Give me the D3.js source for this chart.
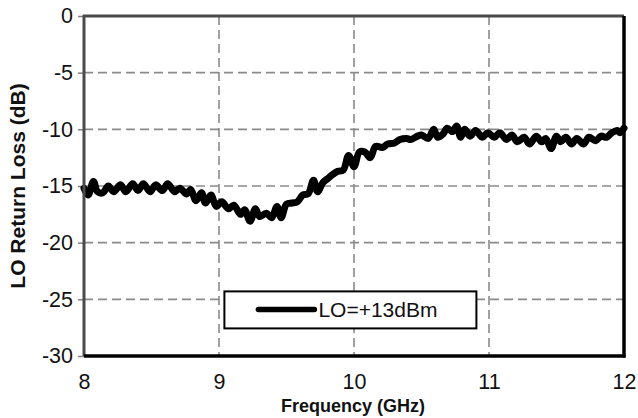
<!DOCTYPE html>
<html>
<head>
<meta charset="utf-8">
<script src="https://cdn.jsdelivr.net/npm/d3@7"></script>
<style>
  html, body { margin: 0; padding: 0; background: #fff; }
  svg { display: block; font-family: "Liberation Sans", Arial, sans-serif; }
</style>
</head>
<body>
<svg id="chart" width="638" height="418"></svg>
<script>
// LO return loss vs frequency, LO = +13 dBm
const freqGHz = [
  8.00, 8.03, 8.07, 8.10, 8.14, 8.18, 8.22, 8.27, 8.31, 8.36,
  8.40, 8.44, 8.49, 8.53, 8.58, 8.62, 8.67, 8.71, 8.76, 8.79,
  8.83, 8.87, 8.90, 8.94, 8.98, 9.02, 9.07, 9.11, 9.16, 9.19,
  9.23, 9.27, 9.30, 9.35, 9.39, 9.43, 9.46, 9.50, 9.54, 9.58,
  9.62, 9.66, 9.70, 9.73, 9.77, 9.81, 9.84, 9.88, 9.92, 9.96,
  10.00, 10.04, 10.08, 10.12, 10.16, 10.21, 10.25, 10.30, 10.34, 10.39,
  10.42, 10.47, 10.50, 10.55, 10.59, 10.62, 10.66, 10.69, 10.73, 10.76,
  10.79, 10.82, 10.86, 10.90, 10.95, 10.99, 11.04, 11.08, 11.13, 11.17,
  11.21, 11.26, 11.30, 11.35, 11.39, 11.42, 11.46, 11.50, 11.53, 11.57,
  11.61, 11.65, 11.70, 11.74, 11.79, 11.83, 11.87, 11.91, 11.95, 11.97,
  12.00
];
const returnLossDb = [
  -15.2, -15.8, -14.6, -15.5, -15.6, -15.0, -15.5, -14.9, -15.5, -14.8,
  -15.4, -14.8, -15.5, -14.9, -15.4, -14.8, -15.5, -15.2, -15.7, -15.3,
  -16.3, -15.6, -16.5, -15.8, -16.8, -16.4, -17.0, -16.7, -17.5, -17.1,
  -18.1, -17.0, -17.7, -17.4, -17.8, -16.8, -17.8, -16.6, -16.5, -16.4,
  -15.8, -15.7, -14.5, -15.5, -14.7, -14.3, -14.0, -13.7, -13.6, -12.3,
  -13.3, -12.0, -12.0, -12.5, -11.5, -11.6, -11.3, -11.2, -10.9, -10.8,
  -10.9, -10.6, -10.5, -10.8, -10.0, -10.7, -10.4, -9.9, -10.2, -9.7,
  -10.7, -10.0, -10.6, -10.1, -10.7, -10.3, -10.7, -10.3, -10.9, -10.5,
  -11.1, -10.7, -11.3, -10.6, -11.1, -10.8, -11.7, -10.6, -11.1, -10.7,
  -11.3, -10.8, -11.3, -10.7, -11.0, -10.6, -10.7, -10.3, -10.1, -10.3,
  -9.9
];
const xTicks = [8, 9, 10, 11, 12];
const yTicks = [0, -5, -10, -15, -20, -25, -30];
const seriesLabel = "LO=+13dBm";
const xTitle = "Frequency (GHz)";
const yTitle = "LO Return Loss (dB)";

const W = 638, H = 418;
const margin = { top: 16, right: 14, bottom: 62, left: 84 };
const iw = W - margin.left - margin.right;
const ih = H - margin.top - margin.bottom;

const svg = d3.select("#chart");
const g = svg.append("g").attr("transform", `translate(${margin.left},${margin.top})`);

const x = d3.scaleLinear().domain([8, 12]).range([0, iw]);
const y = d3.scaleLinear().domain([-30, 0]).range([ih, 0]);
const plain = d => String(d);

// dashed grid
g.append("g").selectAll("line")
  .data(xTicks.filter(d => d > 8 && d < 12))
  .join("line")
  .attr("x1", d => x(d)).attr("x2", d => x(d))
  .attr("y1", 0).attr("y2", ih)
  .attr("stroke", "#8a8a8a").attr("stroke-width", 1.6)
  .attr("stroke-dasharray", "9,5");
g.append("g").selectAll("line")
  .data(yTicks.filter(d => d < 0 && d > -30))
  .join("line")
  .attr("x1", 0).attr("x2", iw)
  .attr("y1", d => y(d)).attr("y2", d => y(d))
  .attr("stroke", "#8a8a8a").attr("stroke-width", 1.6)
  .attr("stroke-dasharray", "9,5");

// y axis: short grey ticks and labels
const yAxis = g.append("g")
  .call(d3.axisLeft(y).tickValues(yTicks).tickSize(6).tickPadding(5).tickFormat(plain));
yAxis.select(".domain").remove();
yAxis.selectAll(".tick line").attr("stroke", "#808080").attr("stroke-width", 1.5);
yAxis.selectAll(".tick text")
  .attr("font-size", 21.5).attr("fill", "#111")
  .attr("font-family", "Liberation Sans, Arial, sans-serif");

// x axis labels
const xAxis = g.append("g").attr("transform", `translate(0,${ih})`)
  .call(d3.axisBottom(x).tickValues(xTicks).tickSize(0).tickPadding(18).tickFormat(plain));
xAxis.select(".domain").remove();
xAxis.selectAll(".tick text")
  .attr("font-size", 21.5).attr("fill", "#111")
  .attr("font-family", "Liberation Sans, Arial, sans-serif");

// data line
const line = d3.line()
  .x((d, i) => x(freqGHz[i]))
  .y(d => y(d))
  .curve(d3.curveCatmullRom.alpha(0.5));
g.append("path")
  .datum(returnLossDb)
  .attr("d", line)
  .attr("fill", "none")
  .attr("stroke", "#000")
  .attr("stroke-width", 7)
  .attr("stroke-linejoin", "round")
  .attr("stroke-linecap", "round");

// frame: grey top/left, black bottom/right
g.append("line").attr("x1", -1).attr("x2", iw).attr("y1", 0).attr("y2", 0)
  .attr("stroke", "#4a4a4a").attr("stroke-width", 3);
g.append("line").attr("x1", 0).attr("x2", 0).attr("y1", -1).attr("y2", ih)
  .attr("stroke", "#4a4a4a").attr("stroke-width", 3);
g.append("line").attr("x1", 0).attr("x2", iw + 1.5).attr("y1", ih).attr("y2", ih)
  .attr("stroke", "#000").attr("stroke-width", 3.5);
g.append("line").attr("x1", iw).attr("x2", iw).attr("y1", 0).attr("y2", ih + 1.5)
  .attr("stroke", "#000").attr("stroke-width", 3.5);

// legend
const leg = g.append("g").attr("transform", `translate(${x(9.04)},${y(-24.3)})`);
leg.append("rect").attr("width", 252).attr("height", 37)
  .attr("fill", "#fff").attr("stroke", "#000").attr("stroke-width", 2);
leg.append("line").attr("x1", 34).attr("x2", 90).attr("y1", 18).attr("y2", 18)
  .attr("stroke", "#000").attr("stroke-width", 5.5).attr("stroke-linecap", "round");
leg.append("text").attr("x", 94).attr("y", 26)
  .attr("font-size", 21).attr("fill", "#111").text(seriesLabel);

// axis titles
svg.append("text")
  .attr("x", margin.left + iw / 2 - 1).attr("y", 412)
  .attr("text-anchor", "middle").attr("font-size", 18).attr("font-weight", "bold")
  .attr("fill", "#111").text(xTitle);
svg.append("text")
  .attr("transform", `translate(25,${margin.top + ih / 2}) rotate(-90)`)
  .attr("text-anchor", "middle").attr("font-size", 21).attr("font-weight", "bold")
  .attr("fill", "#111").text(yTitle);
</script>
</body>
</html>
